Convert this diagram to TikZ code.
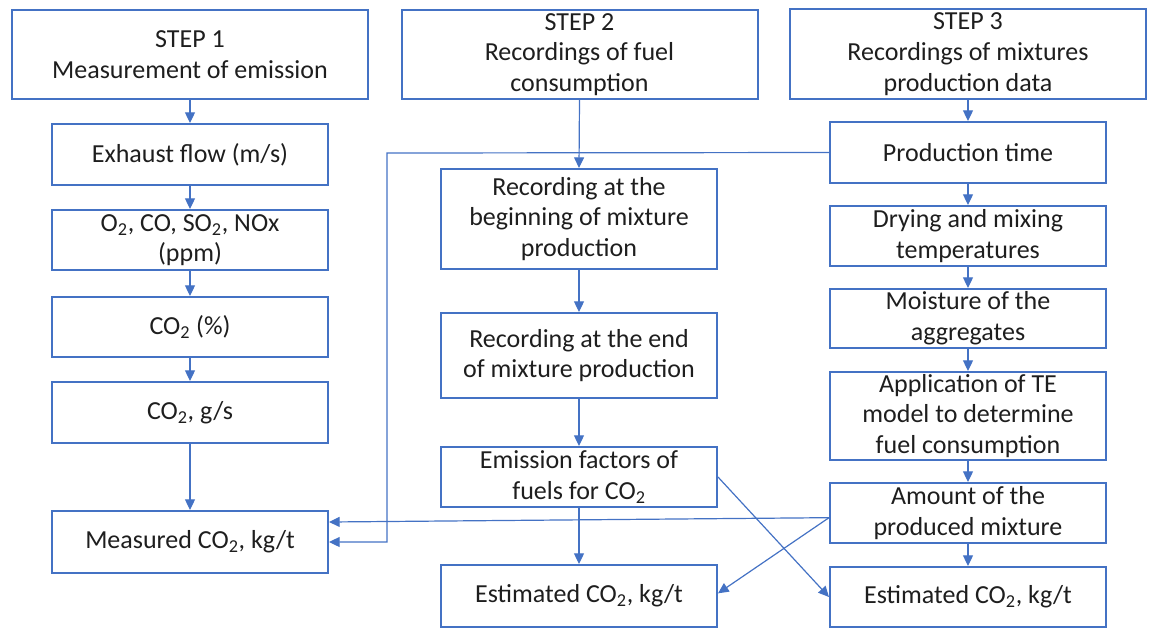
\documentclass[tikz,border=0pt]{standalone}
\usepackage{fontspec}
\setmainfont{Carlito}
\usepackage{xcolor}
\usetikzlibrary{arrows.meta, positioning}
\definecolor{flowBlue}{HTML}{4472C4}
\definecolor{flowText}{HTML}{1E1E1E}
\tikzset{
  flowbox/.style={draw=flowBlue, line width=1.5pt, text=flowText, align=center,
                  inner sep=0pt, minimum width=207pt},
  stepbox/.style={flowbox, minimum width=267pt},
  link/.style={draw=flowBlue, line width=0.9pt, -{Triangle[length=8pt, width=7.5pt]}},
}

\begin{document}
\begin{tikzpicture}[x=0.75pt, y=-0.75pt, font=\fontsize{19.5pt}{23pt}\selectfont]
\useasboundingbox (0,0) rectangle (1157,637);
% step 1 column
\node[stepbox, minimum height=66.75pt] (step1) at (190,54.5) {STEP 1\\Measurement of emission};
\node[flowbox, minimum height=45.75pt] (exhaust) at (190,154.5) {Exhaust flow (m/s)};
\node[flowbox, minimum height=45pt] (gases) at (190,240) {O\textsubscript{2}, CO, SO\textsubscript{2}, NOx\\(ppm)};
\node[flowbox, minimum height=45pt] (copct) at (190,327) {CO\textsubscript{2} (\%)};
\node[flowbox, minimum height=45.75pt] (cogs) at (190,412.5) {CO\textsubscript{2}, g/s};
\node[flowbox, minimum height=46.5pt] (measured) at (190,542) {Measured CO\textsubscript{2}, kg/t};
% step 2 column
\node[stepbox, minimum height=66.75pt] (step2) at (579.5,54.5) {STEP 2\\Recordings of fuel\\consumption};
\node[flowbox, minimum height=75pt] (recbegin) at (579,219) {Recording at the\\beginning of mixture\\production};
\node[flowbox, minimum height=63.75pt] (recend) at (579,355.5) {Recording at the end\\of mixture production};
\node[flowbox, minimum height=45pt] (emfactor) at (579,477) {Emission factors of\\fuels for CO\textsubscript{2}};
\node[flowbox, minimum height=46.5pt] (estmid) at (579,596) {Estimated CO\textsubscript{2}, kg/t};
% step 3 column
\node[stepbox, minimum height=67.5pt] (step3) at (968,54) {STEP 3\\Recordings of mixtures\\production data};
\node[flowbox, minimum height=45.75pt] (prodtime) at (968,152.5) {Production time};
\node[flowbox, minimum height=45pt] (drying) at (968,236) {Drying and mixing\\temperatures};
\node[flowbox, minimum height=44.25pt] (moisture) at (968,318.5) {Moisture of the\\aggregates};
\node[flowbox, minimum height=66pt] (teapp) at (968,416) {Application of TE\\model to determine\\fuel consumption};
\node[flowbox, minimum height=45pt] (amount) at (968,513) {Amount of the\\produced mixture};
\node[flowbox, minimum height=45pt] (estright) at (968,597) {Estimated CO\textsubscript{2}, kg/t};

% vertical chains
\foreach \a/\b in {step1/exhaust, exhaust/gases, gases/copct, copct/cogs, cogs/measured,
                   step2/recbegin, recbegin/recend, recend/emfactor, emfactor/estmid,
                   step3/prodtime, prodtime/drying, drying/moisture, moisture/teapp,
                   teapp/amount, amount/estright}
  \draw[link] (\a.south) -- (\b.north);

% cross links
\coordinate (bend) at (387,153);
\coordinate (amtout) at ([yshift=-3.5pt]amount.west);
\draw[link] (prodtime.west) -- (bend) |- (measured.east);
\draw[link] (amtout) -- ([yshift=15pt]measured.east);
\draw[link] (amtout) -- ([yshift=2pt]estmid.east);
\draw[link] (emfactor.east) -- (estright.west);
\end{tikzpicture}
\end{document}
